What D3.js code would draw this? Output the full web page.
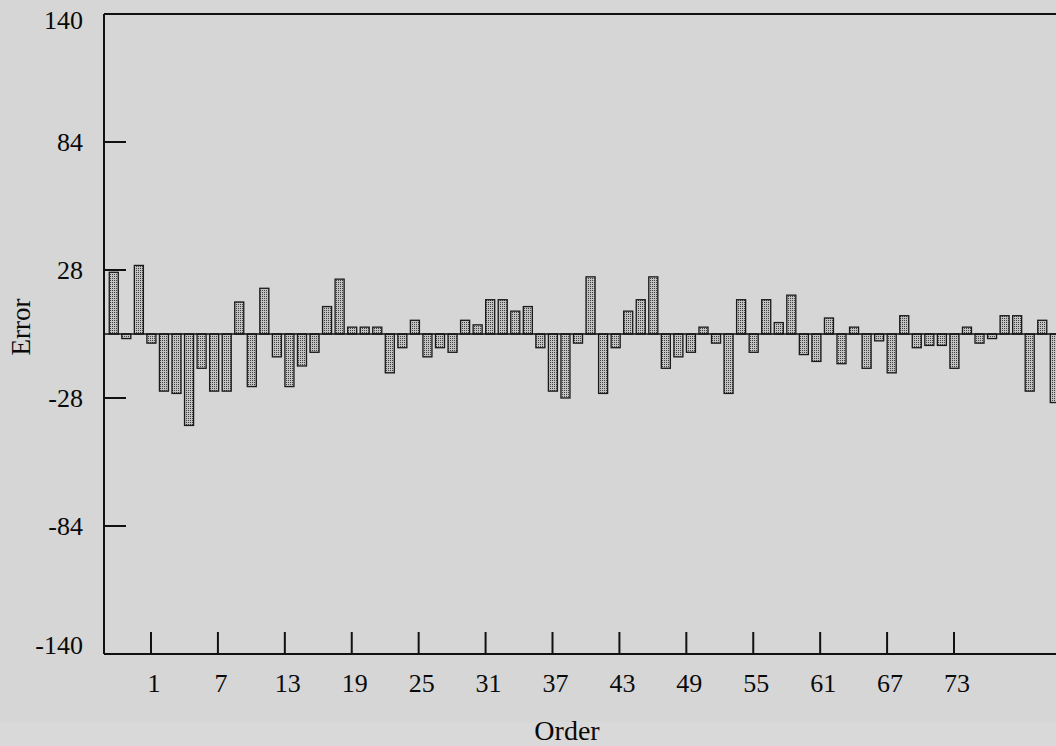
<!DOCTYPE html>
<html>
<head>
<meta charset="utf-8">
<script src="https://cdn.jsdelivr.net/npm/d3@7"></script>
<style>
  html, body { margin: 0; padding: 0; background: #d6d6d6; }
  svg { display: block; }
  text { font-family: "Liberation Serif", "Times New Roman", serif; fill: #0a0a0a; }
</style>
</head>
<body>
<script>
// error for each order (last bar is cut by the page edge)
const errors = [27, -2, 30, -4, -25, -26, -40, -15, -25, -25, 14, -23, 20, -10, -23, -14, -8, 12, 24, 3,
                3, 3, -17, -6, 6, -10, -6, -8, 6, 4, 15, 15, 10, 12, -6, -25, -28, -4, 25, -26,
                -6, 10, 15, 25, -15, -10, -8, 3, -4, -26, 15, -8, 15, 5, 17, -9, -12, 7, -13, 3,
                -15, -3, -17, 8, -6, -5, -5, -15, 3, -4, -2, 8, 8, -25, 6, -30];
const orderTicks = [1, 7, 13, 19, 25, 31, 37, 43, 49, 55, 61, 67, 73];
const errorTicks = [-140, -84, -28, 28, 84, 140];

const w = 1056;
const h = 746;
const left = 104;

const svg = d3.select("body")
    .append("svg")
    .attr("width", w)
    .attr("height", h);

svg.append("rect").attr("x", 0).attr("y", 722).attr("width", w).attr("height", 24).attr("fill", "#d9d9d9");

// stipple fill of the bars
const pat = svg.append("defs").append("pattern")
    .attr("id", "dots")
    .attr("width", 2).attr("height", 2)
    .attr("patternUnits", "userSpaceOnUse");
pat.append("rect").attr("width", 2).attr("height", 2).attr("fill", "#c2c2c2");
pat.append("rect").attr("width", 1).attr("height", 1).attr("fill", "#404040");

const yScale = d3.scaleLinear()
    .domain([-140, 140])
    .range([654, 14]);

const xBand = d3.scaleBand()
    .domain(d3.range(errors.length))
    .range([107.5, 107.5 + errors.length * 12.547])
    .paddingInner(0.28)
    .paddingOuter(0.14);

const xTick = d3.scaleLinear()
    .domain([1, 73])
    .range([151, 954]);

// bars
svg.selectAll("rect.bar")
    .data(errors)
    .enter()
    .append("rect")
    .attr("class", "bar")
    .attr("x", (d, i) => xBand(i))
    .attr("y", d => yScale(Math.max(0, d)))
    .attr("width", xBand.bandwidth())
    .attr("height", d => Math.abs(yScale(d) - yScale(0)))
    .attr("fill", "url(#dots)")
    .attr("stroke", "#1a1a1a")
    .attr("stroke-width", 1.3);

// zero line
svg.append("line")
    .attr("x1", left).attr("x2", w)
    .attr("y1", yScale(0)).attr("y2", yScale(0))
    .attr("stroke", "#111").attr("stroke-width", 1.5);

// frame: top, left, bottom
const frame = svg.append("g").attr("stroke", "#111").attr("stroke-width", 2).attr("fill", "none");
frame.append("line").attr("x1", left).attr("x2", w).attr("y1", yScale(140)).attr("y2", yScale(140));
frame.append("line").attr("x1", left).attr("x2", left).attr("y1", yScale(140)).attr("y2", yScale(-140));
frame.append("line").attr("x1", left).attr("x2", w).attr("y1", yScale(-140)).attr("y2", yScale(-140));

// y ticks and labels
svg.selectAll("line.ytick")
    .data(errorTicks.filter(d => Math.abs(d) < 140))
    .enter()
    .append("line")
    .attr("x1", left).attr("x2", left + 22)
    .attr("y1", d => yScale(d)).attr("y2", d => yScale(d))
    .attr("stroke", "#111").attr("stroke-width", 2);

svg.selectAll("text.ylab")
    .data(errorTicks)
    .enter()
    .append("text")
    .attr("x", 83)
    .attr("y", d => Math.min(645, Math.max(20, yScale(d))))
    .attr("dy", "0.35em")
    .attr("text-anchor", "end")
    .attr("font-size", 26)
    .text(d => d);

// x ticks and labels
svg.selectAll("line.xtick")
    .data(orderTicks)
    .enter()
    .append("line")
    .attr("x1", d => xTick(d)).attr("x2", d => xTick(d))
    .attr("y1", yScale(-140) - 22).attr("y2", yScale(-140))
    .attr("stroke", "#111").attr("stroke-width", 2);

svg.selectAll("text.xlab")
    .data(orderTicks)
    .enter()
    .append("text")
    .attr("x", d => xTick(d) + 3)
    .attr("y", 692)
    .attr("text-anchor", "middle")
    .attr("font-size", 26)
    .text(d => d);

svg.append("text")
    .attr("x", 567)
    .attr("y", 740)
    .attr("text-anchor", "middle")
    .attr("font-size", 28)
    .text("Order");

svg.append("text")
    .attr("transform", "translate(30,327) rotate(-90)")
    .attr("text-anchor", "middle")
    .attr("font-size", 27)
    .text("Error");
</script>
</body>
</html>
